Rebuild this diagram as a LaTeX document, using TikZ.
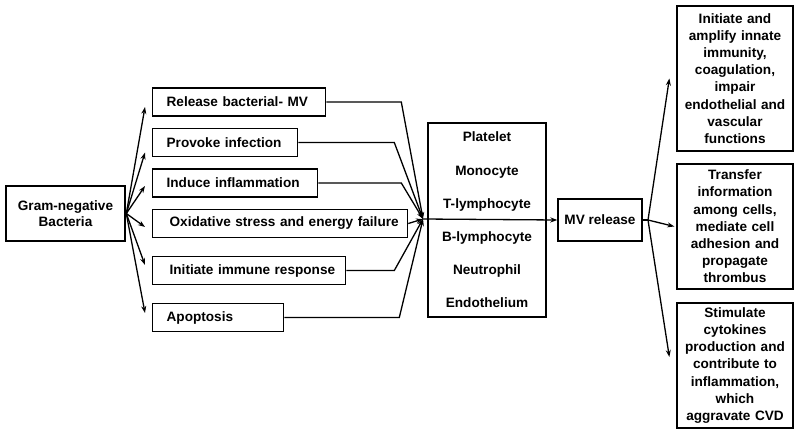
\documentclass[tikz,border=0pt]{standalone}
\usepackage{fontspec}
\setmainfont{Liberation Sans}
\usetikzlibrary{arrows.meta}

\begin{document}
\begin{tikzpicture}[x=1pt, y=-1pt, line width=1.3pt,
	font=\fontsize{13.6}{16}\selectfont\bfseries,
	kasten/.style={draw, inner sep=0pt},
	mitte/.style={kasten, anchor=west, minimum height=28pt, inner xsep=14pt, align=left},
	rechts/.style={kasten, minimum width=116pt, text width=112pt, align=center, font=\fontsize{13.6}{17.2}\selectfont\bfseries},
	pfeil/.style={-{Stealth[length=7pt,width=5pt]}}]
\useasboundingbox (0,0) rectangle (800,434);

% Ausgangsknoten
\node[kasten, line width=2.6pt, minimum width=119pt, minimum height=55pt, align=center] (gram) at (65.5,213.5) {Gram-negative\\Bacteria};

% Wirkungen
\node[mitte, text width=145pt] (rel) at (152,102) {Release bacterial- MV};
\node[mitte, text width=117pt] (prov) at (152,142.5) {Provoke infection};
\node[mitte, text width=137pt] (ind) at (152,183) {Induce inflammation};
\node[mitte, inner xsep=17pt, text width=221pt] (oxid) at (152,223.5) {\mbox{Oxidative stress and energy failure}};
\node[mitte, inner xsep=17pt, text width=159pt] (imm) at (152,270.5) {\mbox{Initiate immune response}};
\node[mitte, text width=103pt] (apo) at (152,317.5) {Apoptosis};

% Zellen und MV
\node[kasten, minimum width=118pt, minimum height=194pt, align=center, font=\fontsize{13.6}{33.2}\selectfont\bfseries] (zellen) at (487,220) {Platelet\\Monocyte\\T-lymphocyte\\B-lymphocyte\\Neutrophil\\Endothelium};
\node[kasten, minimum width=84pt, minimum height=42pt] (mv) at (600,220) {MV release};

% Folgen
\node[rechts, minimum height=145pt] (folge1) at (735,78.5) {Initiate and\\amplify innate\\immunity,\\coagulation,\\impair\\endothelial and\\vascular\\functions};
\node[rechts, minimum height=125pt] (folge2) at (735,226.5) {Transfer\\information\\among cells,\\mediate cell\\adhesion and\\propagate\\thrombus};
\node[rechts, minimum height=125pt] (folge3) at (735,365.5) {Stimulate\\cytokines\\production and\\contribute to\\inflammation,\\which\\aggravate CVD};

\coordinate (hub) at (423,219);
\coordinate (gabel) at (648,220);

% Pfeile links
\foreach \ziel/\dy in {rel/5, prov/10, ind/3, oxid/3.5, imm/-5.5, apo/-4.5}
	\draw[pfeil] (gram.east) -- ([shift={(-7,\dy)}]\ziel.west);

% Zusammenfuehren
\draw[pfeil] (rel.east) -- ++(75,0) -- (hub);
\draw[pfeil] (prov.east) -- ++(96,0) -- (hub);
\draw[pfeil] (ind.east) -- ++(83,0) -- (hub);
\draw[pfeil] (oxid.east) -- (hub);
\draw[pfeil] (imm.east) -- ++(48,0) -- (hub);
\draw[pfeil] (apo.east) -- ++(115,0) -- (hub);
\draw[pfeil] (hub) -- (mv.west);

% Pfeile rechts
\draw (mv.east) -- (gabel);
\draw[pfeil] (gabel) -- ([xshift=-7]folge1.west);
\draw[pfeil] (gabel) -- ([xshift=-2]folge2.west);
\draw[pfeil] (gabel) -- ([shift={(-7,-8.5)}]folge3.west);
\end{tikzpicture}
\end{document}
